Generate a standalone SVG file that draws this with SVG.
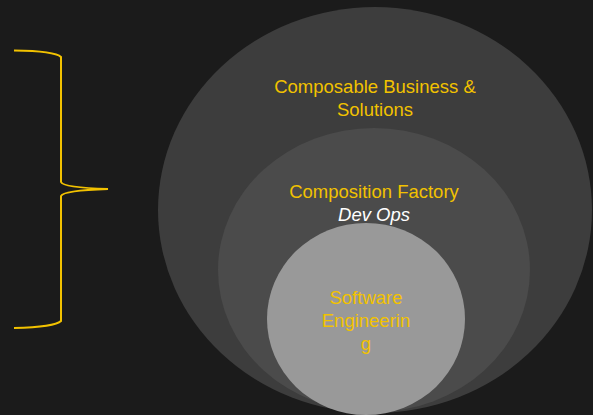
<svg xmlns="http://www.w3.org/2000/svg" width="593" height="415" viewBox="0 0 593 415">
<style>
.t{font-family:"Liberation Sans",Arial,sans-serif;font-size:18.5px;fill:#f2c200;text-anchor:middle}
.w{fill:#ffffff;font-style:italic}
</style>
<rect width="593" height="415" fill="#1b1b1b"/>
<g id="outer">
<ellipse cx="375" cy="210" rx="217" ry="203" fill="#3d3d3d"/>
<text class="t" x="375" y="93">Composable Business &amp;</text>
<text class="t" x="375" y="116">Solutions</text>
</g>
<g id="middle">
<ellipse cx="374" cy="270" rx="156" ry="142" fill="#4b4b4b"/>
<text class="t" x="374" y="198">Composition Factory</text>
<text class="t w" x="374" y="221">Dev Ops</text>
</g>
<g id="inner">
<ellipse cx="366" cy="319" rx="99" ry="96" fill="#999999"/>
<text class="t" x="366" y="304">Software</text>
<text class="t" x="366" y="327">Engineerin</text>
<text class="t" x="366" y="350">g</text>
</g>
<g id="connectors">
<path d="M14,50.5 Q55,51 61,57 V182 Q63,187.5 108,189 Q63,190.5 61,196 V321 Q55,327 14,328" fill="none" stroke="#f2c200" stroke-width="2"/>
</g>
</svg>
